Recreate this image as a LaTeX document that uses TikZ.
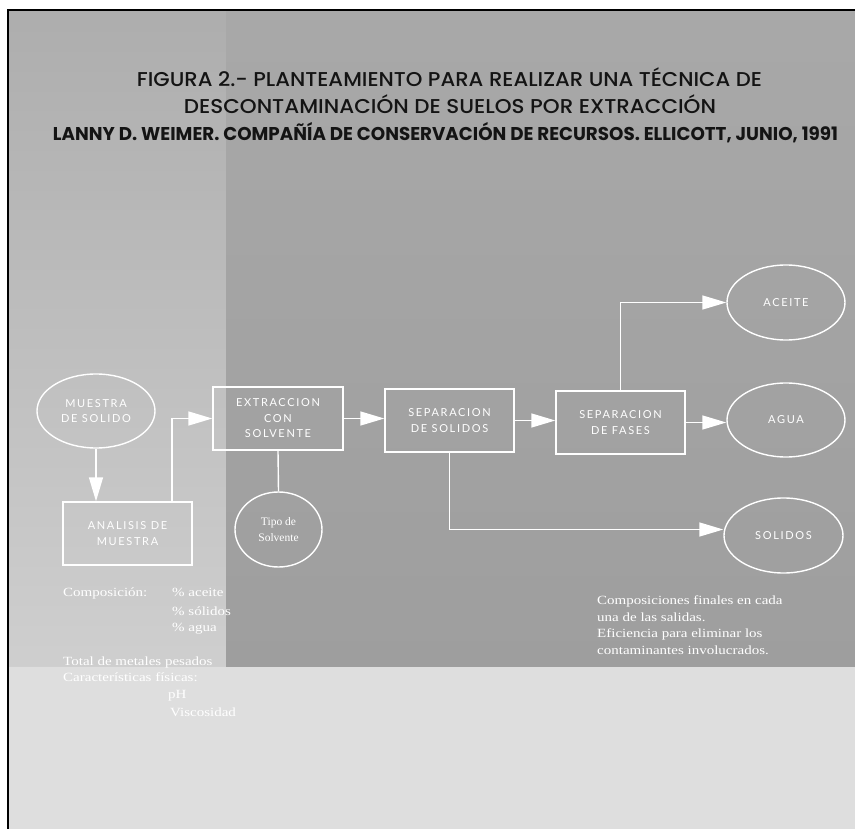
\documentclass[tikz,border=0pt]{standalone}
\usepackage{fontspec}
\usetikzlibrary{arrows.meta,shapes.geometric}
\setmainfont{Liberation Serif}
\newfontfamily\titlefont{Poppins Medium}
\newfontfamily\titleboldfont{Poppins}
\newfontfamily\boxfont[LetterSpace=15]{Lato}
\newfontfamily\noteserif[FakeStretch=1.2]{Liberation Serif}
\definecolor{bgdarktop}{gray}{0.66}
\definecolor{bgdarkbot}{gray}{0.62}
\definecolor{bglefttop}{gray}{0.68}
\definecolor{bgleftbot}{gray}{0.81}
\definecolor{bgbottom}{gray}{0.87}
\definecolor{titleink}{gray}{0.08}
\begin{document}
\begin{tikzpicture}[x=1pt,y=-1pt,
  wline/.style={white, line width=1.4pt},
  arr/.style={wline, -{Triangle[length=24pt,width=14pt,fill=white]}},
  proc/.style={rectangle, draw=white, line width=1.4pt, text=white, inner sep=0pt,
    minimum width=129pt, minimum height=63pt, align=center,
    font=\boxfont\fontsize{11}{15.5}\selectfont},
  oval/.style={ellipse, draw=white, line width=1.4pt, text=white, inner sep=0pt,
    minimum width=118pt, minimum height=74pt, align=center,
    font=\boxfont\fontsize{11}{15.5}\selectfont},
  note/.style={text=white, inner sep=0pt, anchor=base west,
    font=\noteserif\fontsize{12.5}{16}\selectfont},
  titleline/.style={text=titleink, inner sep=0pt, anchor=base}
]
\useasboundingbox (0,0) rectangle (855,829);
\fill[white] (0,0) rectangle (855,829);
\fill[bgbottom] (8,10) rectangle (855,829);
\shade[top color=bglefttop, bottom color=bgleftbot] (8,10) rectangle (226,666);
\shade[top color=bgdarktop, bottom color=bgdarkbot] (226,10) rectangle (855,666);
\draw[black, line width=2pt] (8,829) -- (8,10) -- (855,10);

% title
\node[titleline] (t1) at (449.5,87) {\resizebox{625pt}{\height}{\titlefont\fontsize{20}{24}\selectfont FIGURA 2.- PLANTEAMIENTO PARA REALIZAR UNA TÉCNICA DE}};
\node[titleline] (t2) at (450,114) {\resizebox{532pt}{\height}{\titlefont\fontsize{20}{24}\selectfont DESCONTAMINACIÓN DE SUELOS POR EXTRACCIÓN}};
\node[titleline] (t3) at (445.5,141) {\resizebox{785pt}{\height}{\titleboldfont\bfseries\fontsize{18.5}{22}\selectfont LANNY D. WEIMER. COMPAÑÍA DE CONSERVACIÓN DE RECURSOS. ELLICOTT, JUNIO, 1991}};

% nodes
\node[oval] (muestra) at (96,411) {MUESTRA\\DE SOLIDO};
\node[proc] (analisis) at (127.5,533.5) {ANALISIS DE\\MUESTRA};
\node[proc, minimum width=130pt] (extraccion) at (278,418.5) {EXTRACCION\\CON\\SOLVENTE};
\node[ellipse, draw=white, line width=1.4pt, text=white, inner sep=0pt,
      minimum width=87pt, minimum height=75pt, align=center,
      font=\fontsize{11.5}{16}\selectfont] (tipo) at (278.5,529.5) {Tipo de\\Solvente};
\node[proc] (sepsol) at (449.5,420.5) {SEPARACION\\DE SOLIDOS};
\node[proc] (sepfas) at (620.5,422.5) {SEPARACION\\DE FASES};
\node[oval, minimum height=75pt] (aceite) at (786,302.5) {ACEITE};
\node[oval] (agua) at (786,420) {AGUA};
\node[oval, minimum width=119pt, minimum height=75pt] (solidos) at (783.5,535.5) {SOLIDOS};

% connectors
\draw[arr] (muestra.south) -- (muestra.south |- analisis.north);
\draw[arr] ([xshift=44.5pt]analisis.north) |- (extraccion.west);
\draw[wline] (extraccion.south) -- (tipo.north);
\draw[arr] (extraccion.east) -- (extraccion.east -| sepsol.west);
\draw[arr] (sepsol.east) -- (sepsol.east -| sepfas.west);
\draw[arr] (sepfas.north) |- (aceite.west);
\draw[arr] (sepfas.east) -- (sepfas.east -| agua.west);
\draw[arr] (sepsol.south) |- ([yshift=6pt]solidos.west);

% notes bottom left
\node[note] (c1) at (63,596) {Composición:};
\node[note] (c2) at (172,596) {\% aceite};
\node[note] (c3) at (172,615) {\% sólidos};
\node[note] (c4) at (172,631) {\% agua};
\node[note] (c5) at (63,665) {Total de metales pesados};
\node[note] (c6) at (63,681) {Características físicas:};
\node[note] (c7) at (168,698) {pH};
\node[note] (c8) at (170,716) {Viscosidad};

% notes bottom right
\node[note] (r1) at (597,604) {Composiciones finales en cada};
\node[note] (r2) at (597,621) {una de las salidas.};
\node[note] (r3) at (597,637) {Eficiencia para eliminar los};
\node[note] (r4) at (597,654) {contaminantes involucrados.};
\end{tikzpicture}
\end{document}
